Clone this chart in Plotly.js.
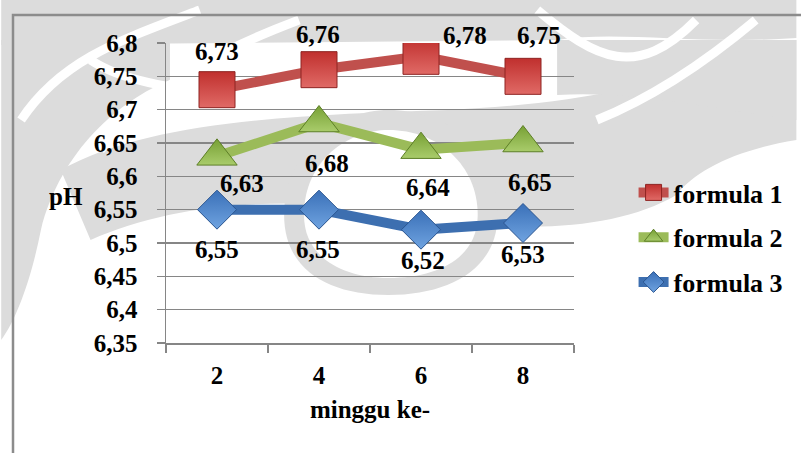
<!DOCTYPE html>
<html><head><meta charset="utf-8">
<script src="https://cdn.plot.ly/plotly-3.0.1.min.js"></script>
<style>html,body{margin:0;padding:0;background:#fff}#chart{width:801px;height:453px}</style>
</head><body><div id="chart"></div>
<script>
const weeks = ['2','4','6','8'];
const formula1 = [6.73, 6.76, 6.78, 6.75];
const formula2 = [6.63, 6.68, 6.64, 6.65];
const formula3 = [6.55, 6.55, 6.52, 6.53];
const seriesNames = ['formula 1','formula 2','formula 3'];
const yTicks = [6.35,6.4,6.45,6.5,6.55,6.6,6.65,6.7,6.75,6.8];

const FONT = '"Liberation Serif", "Times New Roman", serif';
const styles = [
  {line:'#c0504d', fill:'#c0302e', grad:'#e06a66', edge:'#8e2422', symbol:'square', size:36},
  {line:'#9bbb59', fill:'#77a034', grad:'#a9cc6b', edge:'#5d7f27', symbol:'triangle-up', size:35},
  {line:'#3d6fb0', fill:'#3a70b8', grad:'#6fa3e0', edge:'#2a5590', symbol:'diamond', size:30}
];
const allData = [formula1, formula2, formula3];
const traces = allData.map((vals,i)=>({
  type:'scatter', mode:'lines+markers', x:weeks, y:vals, name:'<b>'+seriesNames[i]+'</b>',
  legendgroup:'g'+i,
  line:{color:styles[i].line, width:10},
  marker:{symbol:styles[i].symbol, size:styles[i].size, color:styles[i].fill,
          gradient:{type:'vertical', color:styles[i].grad},
          line:{color:styles[i].edge, width:1}}
}));

// label offsets (pixels) per series / point
const dx = [[0,-1,44,16],[25,8,7,7],[0,-1,2,0]];
const dy = [[38,35,21,41],[-27,-40,-38,-39],[-40,-40,-31,-31]];
const fmt = v => v.toFixed(2).replace('.',',');
const annotations = [];
allData.forEach((vals,i)=>vals.forEach((v,j)=>{
  annotations.push({x:j, y:v, xref:'x', yref:'y', text:'<b>'+fmt(v)+'</b>', showarrow:false,
    xshift:dx[i][j], yshift:dy[i][j], xanchor:'center', yanchor:'middle',
    font:{family:FONT, size:25, color:'#000'}});
}));
annotations.push({xref:'paper', yref:'paper', x:-0.245, y:0.49, text:'<b>pH</b>', showarrow:false,
  xanchor:'center', yanchor:'middle', font:{family:FONT, size:25, color:'#000'}});

// background watermark (decorative), drawn in pixel coords converted to paper coords
const L=166, T=43, W=411, H=300;
const px = x => ((x-L)/W).toFixed(4);
const py = y => ((T+H-y)/H).toFixed(4);
function path(pts, close){
  return pts.map(p=>{
    const c=p[0]; const nums=[];
    for(let k=1;k<p.length;k+=2) nums.push(px(p[k])+','+py(p[k+1]));
    return c+nums.join(' ');
  }).join(' ')+(close===false?'':' Z');
}
const WM = '#dcdcdc';
const wm = [
  [['M',0,0],['L',801,0],['L',801,38],['C',700,45,620,30,560,40],['L',0,45]],
  [['M',0,40],['L',170,40],['L',170,80],['C',120,100,60,150,40,230],['C',30,280,15,320,0,340]],
  [['M',60,170],['C',150,120,300,115,450,110],['C',560,105,650,90,720,60],['L',801,40],['L',801,140],
   ['C',740,150,700,170,680,195],['C',620,230,520,235,420,215],['C',300,195,180,200,90,240]],
  [['M',560,40],['L',801,40],['L',801,120],['C',720,110,640,90,560,95]],
  [['M',285,215],['C',285,150,340,110,390,110],['C',450,110,500,150,500,215],['C',500,270,450,295,390,295],['C',330,295,285,270,285,215]]
];
const wmWhite = [
  [['M',305,215],['C',305,160,350,130,390,130],['C',440,130,480,165,480,215],['C',480,258,440,278,390,278],['C',345,278,305,258,305,215]]
];
const shapes = [];
wm.forEach(p=>shapes.push({type:'path', xref:'paper', yref:'paper', path:path(p), fillcolor:WM, line:{width:0}, layer:'below'}));
wmWhite.forEach(p=>shapes.push({type:'path', xref:'paper', yref:'paper', path:path(p), fillcolor:'#ffffff', line:{width:0}, layer:'below'}));
const swirls = [
  [['M',20,120],['C',60,60,120,40,200,10]],
  [['M',100,150],['C',160,80,220,50,300,20]],
  [['M',540,10],['C',600,60,640,80,700,20]],
  [['M',600,120],['C',650,100,700,70,760,20]],
  [['M',90,60],['C',150,100,300,100,440,85]]
];
swirls.forEach(p=>shapes.push({type:'path', xref:'paper', yref:'paper', path:path(p,false), fillcolor:'rgba(0,0,0,0)', line:{color:'#ffffff', width:9}, layer:'below'}));
shapes.push({type:'rect', xref:'paper', yref:'paper', x0:-0.375, x1:1.56, y0:-0.42, y1:1.093,
  line:{color:'#8c8c8c', width:2.5}, fillcolor:'rgba(0,0,0,0)', layer:'below'});

const layout = {
  width:801, height:453,
  margin:{l:166, r:224, t:43, b:110},
  paper_bgcolor:'#ffffff', plot_bgcolor:'rgba(0,0,0,0)',
  separators:',.',
  font:{family:FONT, size:22, color:'#000'},
  showlegend:true,
  legend:{x:1.146, y:0.58, xanchor:'left', yanchor:'top', tracegroupgap:8,
    font:{family:FONT, size:26, color:'#000'}, bgcolor:'rgba(0,0,0,0)'},
  xaxis:{type:'category', range:[-0.5,3.5], tickson:'boundaries', ticks:'outside', ticklen:8,
    tickcolor:'#868686', tickwidth:1.5, showline:true, linecolor:'#868686', linewidth:1.5,
    showgrid:false, zeroline:false, ticklabelstandoff:9,
    tickvals:weeks, ticktext:weeks.map(w=>'<b>'+w+'</b>'),
    tickfont:{family:FONT, size:25, color:'#000'},
    title:{text:'<b>minggu ke-</b>', standoff:13, font:{family:FONT, size:25, color:'#000'}}},
  yaxis:{range:[6.35,6.8], tickvals:yTicks, ticktext:yTicks.map(v=>'<b>'+String(v).replace('.',',')+'</b>'),
    ticks:'outside', ticklen:8, tickcolor:'#868686', tickwidth:1.5,
    showline:true, linecolor:'#868686', linewidth:1.5, showgrid:true, gridcolor:'#868686', gridwidth:1.5,
    zeroline:false, ticklabelstandoff:14,
    tickfont:{family:FONT, size:25, color:'#000'}},
  shapes:shapes,
  annotations:annotations
};
Plotly.newPlot('chart', traces, layout, {displayModeBar:false, staticPlot:true});
</script></body></html>
